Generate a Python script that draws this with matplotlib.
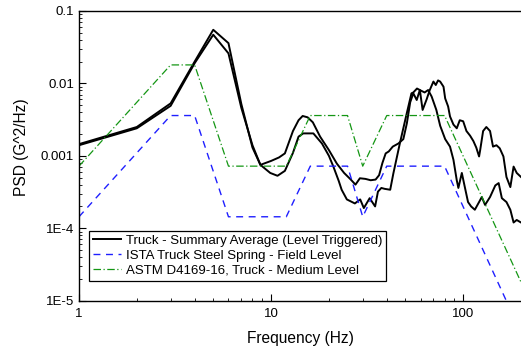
import matplotlib
matplotlib.use("Agg")
import matplotlib.pyplot as plt
from matplotlib.ticker import LogLocator, NullFormatter

plt.rcParams['font.family'] = ['Liberation Sans', 'DejaVu Sans']

# Truck summary average, trace A (higher at 15 Hz and above 100 Hz)
freq_a = [1, 2, 3, 4, 5, 6, 7, 8, 8.8, 10, 11, 11.8, 13, 13.9, 14.6, 15.5, 16.5, 18,
          20, 22, 24, 26, 27.5, 29, 31, 33, 35, 36.5, 38, 39.5, 41, 43, 46, 48.8,
          50.9, 53, 55, 57.3, 59.5, 61.5, 64.5, 67, 70, 72, 74, 75.9, 79, 80.6, 83.5,
          85.4, 89, 92.6, 96, 100, 104, 108.6, 113, 117, 121, 122.6, 127, 132, 138,
          143, 149, 155, 162, 168, 176, 183, 190, 200]
psd_a = [0.00145, 0.0025, 0.0053, 0.02, 0.055, 0.036, 0.0052, 0.0013, 0.00075, 0.00085,
         0.00095, 0.00108, 0.0022, 0.0031, 0.00355, 0.0034, 0.0029, 0.00184,
         0.0012, 0.00078, 0.00058, 0.00047, 0.0004, 0.00049, 0.00048, 0.00046, 0.00047,
         0.00054, 0.0008, 0.00108, 0.00115, 0.00134, 0.00148, 0.0017,
         0.0028, 0.0055, 0.0073, 0.0059, 0.0081, 0.0043, 0.006, 0.0081, 0.0106, 0.0095,
         0.011, 0.0106, 0.009, 0.0062, 0.0048,
         0.0035, 0.0027, 0.0024, 0.0031, 0.003, 0.0022, 0.0019, 0.0016, 0.0013, 0.00098,
         0.0012, 0.0022, 0.0025, 0.0022,
         0.00134, 0.0014, 0.00127, 0.00098, 0.00051, 0.00037, 0.00071, 0.00058, 0.00051]

# Truck summary average, trace B
freq_b = [1, 2, 3, 4, 5, 6, 7, 8, 8.8, 9.9, 10.8, 11.8, 13, 13.9, 14.7, 16.6, 18.4,
          20, 21.1, 22.5, 23.3, 24.8, 27.3, 29.1, 30.4, 32.6, 34.8, 36, 37.5, 39,
          41.7, 43.3, 46.8, 50.9, 53.8, 55, 57.5, 60, 63, 65.7, 68.5, 72.5, 75.9,
          80.6, 85.4, 89, 92.6, 94.4, 98.4, 102, 106, 110, 115, 121, 125, 130, 138,
          147, 153, 159, 168, 176, 183, 190, 200]
psd_b = [0.0014, 0.0024, 0.0049, 0.019, 0.047, 0.026, 0.0046, 0.0014, 0.00075, 0.00058,
         0.00053, 0.00062, 0.0011, 0.00184, 0.00204, 0.00204, 0.00148,
         0.001, 0.00071, 0.00045, 0.00034, 0.00025, 0.00022, 0.00025, 0.00019, 0.00026,
         0.0002, 0.00032, 0.00036, 0.00035,
         0.00034, 0.00057, 0.00148, 0.0039, 0.0073, 0.0075, 0.0085, 0.008, 0.0075,
         0.0081, 0.0066, 0.0043, 0.0026,
         0.0017, 0.00134, 0.00088, 0.00046, 0.00036, 0.00058, 0.00037, 0.00023, 0.0002,
         0.00018, 0.00023, 0.00027, 0.00021, 0.00027,
         0.00039, 0.00042, 0.00026, 0.00023, 0.00018, 0.00012, 0.00013, 0.00012]

# ASTM D4169-16 truck, medium level (breakpoints)
astm_freq = [1, 3, 4, 6, 12, 16, 25, 30, 40, 80, 200]
astm_psd = [0.00072, 0.018, 0.018, 0.00072, 0.00072, 0.0036, 0.0036, 0.00072, 0.0036, 0.0036, 0.000018]

# ISTA truck steel spring, field level (breakpoints)
ista_freq = [1, 3, 4, 6, 12, 16, 25, 30, 40, 80, 200]
ista_psd = [0.000144, 0.0036, 0.0036, 0.000144, 0.000144, 0.00072, 0.00072, 0.000144, 0.00072, 0.00072, 0.0000036]

fig = plt.figure(figsize=(5.21, 3.5), dpi=100)
ax = fig.add_axes([0.1516, 0.141, 0.8484, 0.8276])

ax.plot(freq_a, psd_a, color='black', lw=1.4, label='Truck - Summary Average (Level Triggered)')
ax.plot(freq_b, psd_b, color='black', lw=1.4)
ax.plot(ista_freq, ista_psd, color='#1f1fff', lw=1.0, dashes=(5, 4),
        label='ISTA Truck Steel Spring - Field Level')
ax.plot(astm_freq, astm_psd, color='#149614', lw=0.9, dashes=(6, 2, 1, 2),
        label='ASTM D4169-16, Truck - Medium Level')

ax.set_xscale('log')
ax.set_yscale('log')
ax.set_xlim(1, 200)
ax.set_ylim(1e-5, 0.1)

ax.set_xticks([1, 10, 100])
ax.set_xticklabels(['1', '10', '100'])
ax.xaxis.set_minor_locator(LogLocator(base=10, subs=range(2, 10)))
ax.xaxis.set_minor_formatter(NullFormatter())
ax.set_yticks([1e-5, 1e-4, 0.001, 0.01, 0.1])
ax.set_yticklabels(['1E-5', '1E-4', '0.001', '0.01', '0.1'])
ax.yaxis.set_minor_locator(LogLocator(base=10, subs=range(2, 10)))
ax.yaxis.set_minor_formatter(NullFormatter())

ax.tick_params(which='both', direction='in', labelsize=9.5, top=False, right=False)
ax.tick_params(axis='x', which='major', pad=5)
ax.tick_params(which='major', length=5, width=0.8)
ax.tick_params(which='minor', length=2.5, width=0.6)
for s in ax.spines.values():
    s.set_linewidth(1.0)
ax.spines['right'].set_visible(False)

ax.set_xlabel('Frequency (Hz)', fontsize=11.2, labelpad=8)
ax.set_ylabel('PSD (G^2/Hz)', fontsize=11.2)
ax.yaxis.set_label_coords(-0.114, 0.53)

leg = ax.legend(loc='lower left', bbox_to_anchor=(0.0226, 0.068), fontsize=9.5,
                frameon=True, fancybox=False, edgecolor='black', framealpha=1,
                borderpad=0.3, labelspacing=0.22, handlelength=2.1, handletextpad=0.4,
                borderaxespad=0)
leg.get_frame().set_linewidth(0.9)

plt.savefig("out.png", dpi=100)
plt.close()
